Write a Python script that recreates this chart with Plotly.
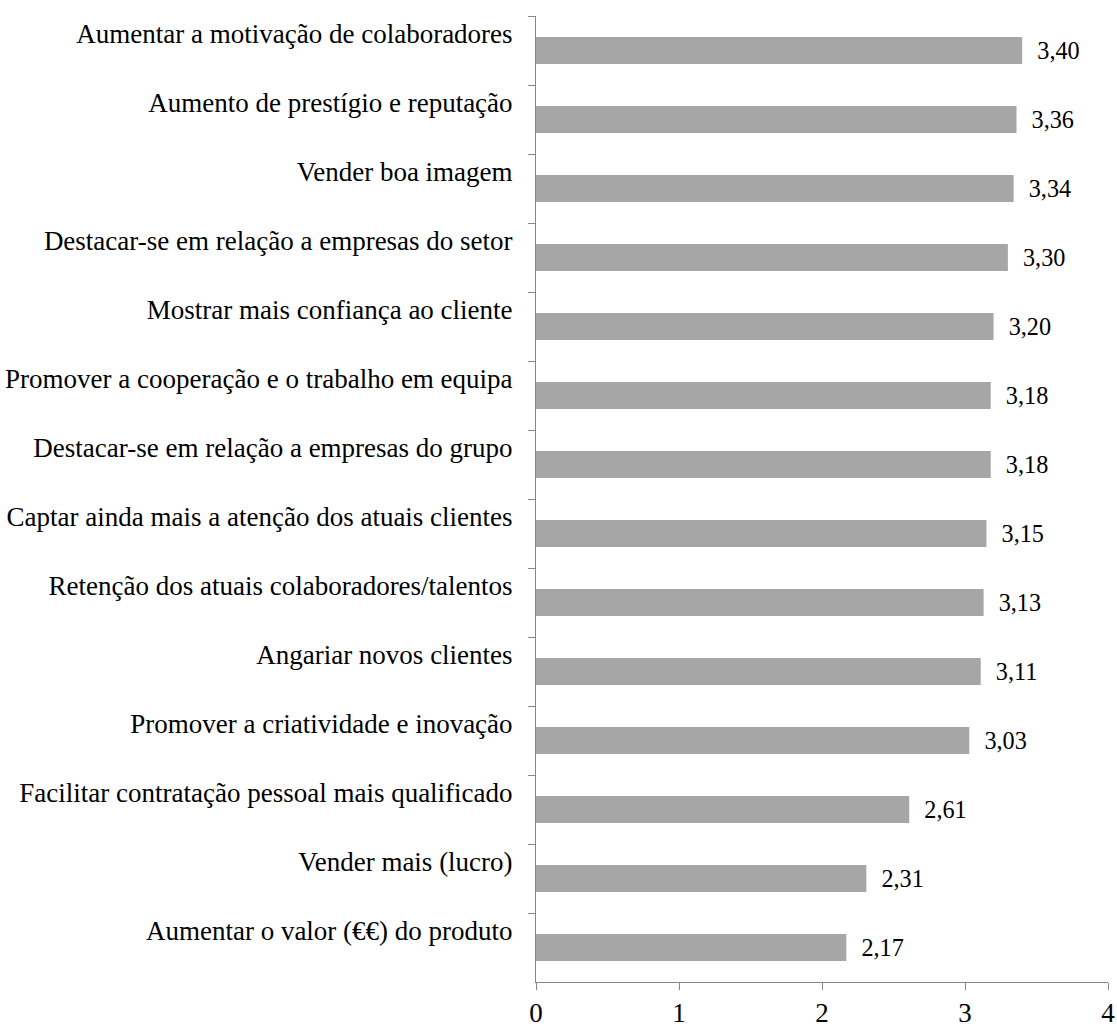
import plotly.graph_objects as go

# Motivos para a certificação (médias), de cima para baixo
categorias = [
    "Aumentar a motivação de colaboradores",
    "Aumento de prestígio e reputação",
    "Vender boa imagem",
    "Destacar-se em relação a empresas do setor",
    "Mostrar mais confiança ao cliente",
    "Promover a cooperação e o trabalho em equipa",
    "Destacar-se em relação a empresas do grupo",
    "Captar ainda mais a atenção dos atuais clientes",
    "Retenção dos atuais colaboradores/talentos",
    "Angariar novos clientes",
    "Promover a criatividade e inovação",
    "Facilitar contratação pessoal mais qualificado",
    "Vender mais (lucro)",
    "Aumentar o valor (€€) do produto",
]
medias = [3.40, 3.36, 3.34, 3.30, 3.20, 3.18, 3.18, 3.15, 3.13, 3.11, 3.03, 2.61, 2.31, 2.17]
ticks_x = [0, 1, 2, 3, 4]

FONTE = dict(family="Liberation Serif, Times New Roman, serif", size=27, color="#000000")
CINZA_EIXO = "#868686"

fig = go.Figure(
    go.Bar(
        x=medias,
        y=categorias,
        orientation="h",
        marker=dict(color="#A6A6A6", line=dict(width=0)),
        texttemplate="\u00a0\u00a0%{x:.2f}",
        textposition="outside",
        textfont=FONTE,
        cliponaxis=False,
        width=0.39,
    )
)

fig.update_layout(
    width=1117,
    height=1026,
    margin=dict(l=536, r=9, t=16, b=44),
    paper_bgcolor="white",
    plot_bgcolor="white",
    font=FONTE,
    separators=", ",
    showlegend=False,
)

fig.update_yaxes(
    type="category",
    autorange="reversed",
    automargin=False,
    showline=True,
    linecolor=CINZA_EIXO,
    linewidth=1,
    ticks="outside",
    ticklen=7,
    tickcolor=CINZA_EIXO,
    tickson="boundaries",
    ticklabelshift=17,
    ticklabelstandoff=17,
    showgrid=False,
    tickfont=FONTE,
)

fig.update_xaxes(
    range=[0, 4],
    tickvals=ticks_x,
    automargin=False,
    showline=True,
    linecolor=CINZA_EIXO,
    linewidth=1,
    ticks="outside",
    ticklen=7,
    tickcolor=CINZA_EIXO,
    ticklabelstandoff=0,
    showgrid=False,
    zeroline=False,
    tickfont=FONTE,
)

fig.write_html("out.html")
